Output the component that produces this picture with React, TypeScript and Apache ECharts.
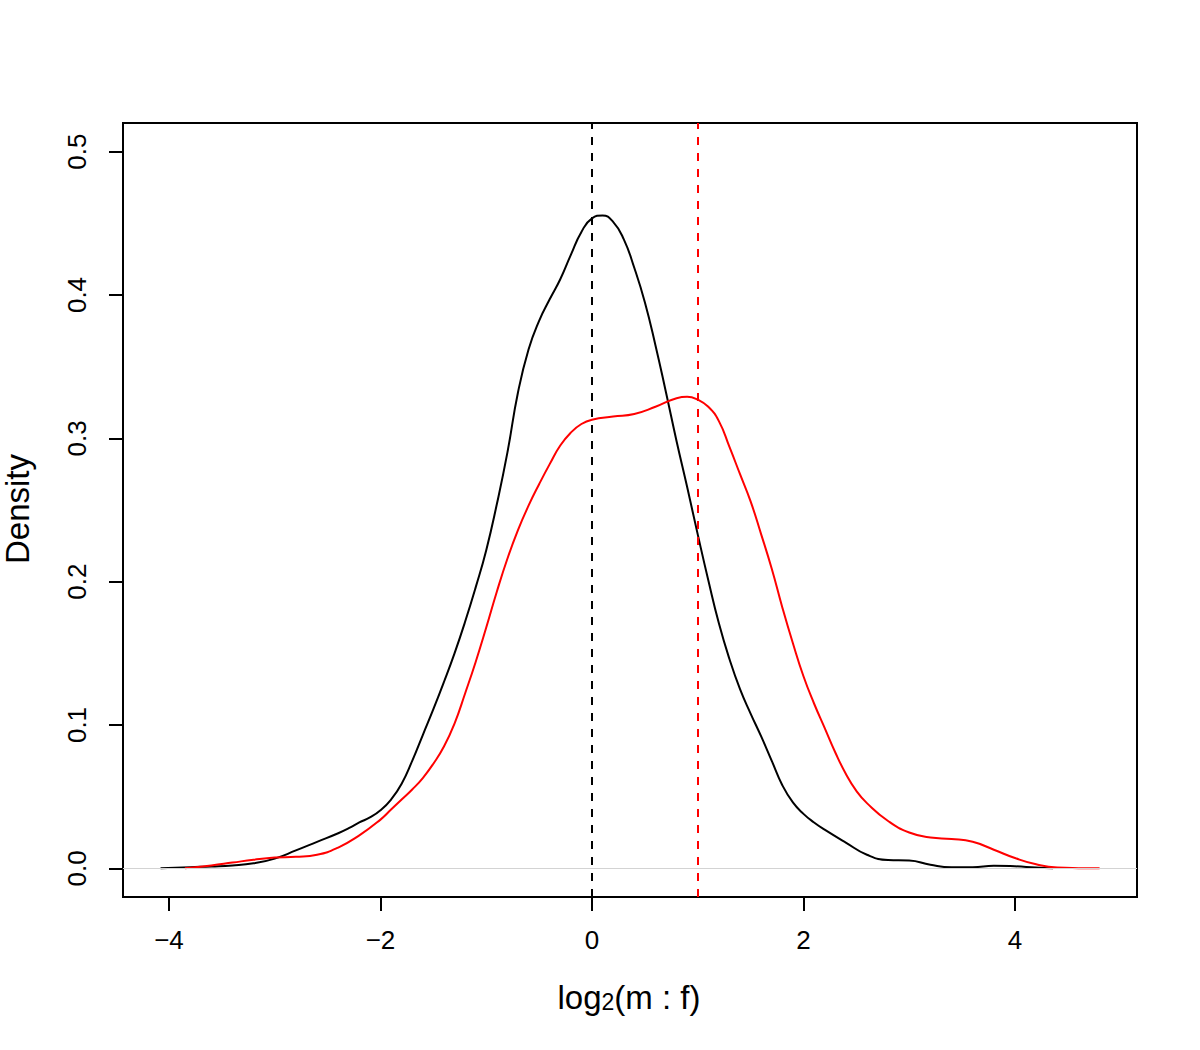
import React, { useEffect, useRef } from "react";
import * as echarts from "echarts";

const xTicks = [-4, -2, 0, 2, 4];
const yTicks = [0, 0.1, 0.2, 0.3, 0.4, 0.5];

const blackX = [-4.08, -3.8, -3.6, -3.4, -3.2, -3.0, -2.8, -2.6, -2.4, -2.3, -2.2, -2.1, -2.0, -1.9, -1.8, -1.7, -1.6, -1.5, -1.4, -1.3, -1.2, -1.1, -1.0, -0.9, -0.8, -0.7, -0.6, -0.5, -0.4, -0.3, -0.2, -0.1, 0.0, 0.1, 0.2, 0.3, 0.4, 0.5, 0.6, 0.7, 0.8, 0.9, 1.0, 1.1, 1.2, 1.3, 1.4, 1.5, 1.6, 1.7, 1.8, 1.9, 2.0, 2.1, 2.2, 2.4, 2.6, 2.8, 3.0, 3.2, 3.4, 3.6, 3.8, 4.0, 4.2, 4.36];
const blackY = [0, 0.0008, 0.0013, 0.002, 0.0035, 0.0068, 0.0125, 0.0185, 0.0245, 0.028, 0.032, 0.0355, 0.0405, 0.048, 0.059, 0.075, 0.093, 0.111, 0.13, 0.15, 0.172, 0.196, 0.222, 0.254, 0.29, 0.332, 0.362, 0.382, 0.397, 0.411, 0.428, 0.444, 0.4535, 0.4555, 0.451, 0.439, 0.419, 0.395, 0.365, 0.332, 0.298, 0.266, 0.233, 0.201, 0.171, 0.146, 0.125, 0.108, 0.092, 0.075, 0.058, 0.046, 0.038, 0.032, 0.027, 0.018, 0.0095, 0.0058, 0.0055, 0.0025, 0.0008, 0.0008, 0.0018, 0.0014, 0.0005, 0];

const redX = [-3.85, -3.6, -3.4, -3.2, -3.0, -2.8, -2.6, -2.4, -2.2, -2.0, -1.9, -1.8, -1.7, -1.6, -1.5, -1.4, -1.3, -1.2, -1.1, -1.0, -0.9, -0.8, -0.7, -0.6, -0.5, -0.4, -0.3, -0.2, -0.1, 0.0, 0.2, 0.4, 0.6, 0.8, 0.9, 1.0, 1.1, 1.2, 1.3, 1.4, 1.5, 1.6, 1.7, 1.8, 1.9, 2.0, 2.1, 2.2, 2.3, 2.4, 2.5, 2.6, 2.8, 3.0, 3.2, 3.4, 3.6, 3.8, 4.0, 4.2, 4.4, 4.6, 4.8];
const redY = [0, 0.002, 0.004, 0.006, 0.0075, 0.008, 0.0095, 0.0145, 0.023, 0.034, 0.041, 0.048, 0.055, 0.063, 0.073, 0.085, 0.101, 0.122, 0.144, 0.168, 0.193, 0.216, 0.236, 0.253, 0.268, 0.282, 0.295, 0.304, 0.31, 0.313, 0.3152, 0.317, 0.322, 0.328, 0.329, 0.327, 0.322, 0.312, 0.294, 0.275, 0.256, 0.233, 0.209, 0.182, 0.157, 0.134, 0.115, 0.098, 0.081, 0.066, 0.054, 0.0455, 0.033, 0.025, 0.0215, 0.0205, 0.0185, 0.013, 0.0072, 0.0028, 0.0005, 0.0001, 0];

const refBlack = 0;
const refRed = 1;

const FONT = "'Liberation Sans', Arial, Helvetica, sans-serif";

const pairs = (xs: number[], ys: number[]) => xs.map((x, i) => [x, ys[i]]);
const fmtX = (v: number) => (v < 0 ? "\u2212" + Math.abs(v) : String(v));

export default function App() {
  const ref = useRef<HTMLDivElement>(null);
  useEffect(() => {
    document.body.style.margin = "0";
    const chart = echarts.init(ref.current!, null, { renderer: "svg" });
    chart.setOption({
      animation: false,
      backgroundColor: "#fff",
      textStyle: { fontFamily: FONT },
      grid: {
        left: 123,
        top: 123,
        width: 1014,
        height: 774,
        show: true,
        borderColor: "#000",
        borderWidth: 2,
        backgroundColor: "transparent",
      },
      xAxis: {
        type: "value",
        min: -4.435,
        max: 5.154,
        axisLine: { show: false, onZero: false },
        splitLine: { show: false },
        axisTick: {
          show: true,
          length: 14,
          customValues: xTicks,
          lineStyle: { color: "#000", width: 2 },
        },
        axisLabel: {
          customValues: xTicks,
          fontSize: 26,
          color: "#000",
          fontFamily: FONT,
          margin: 30,
          formatter: fmtX,
        },
      },
      yAxis: {
        type: "value",
        min: -0.02,
        max: 0.52,
        axisLine: { show: false, onZero: false },
        splitLine: { show: false },
        axisTick: {
          show: true,
          length: 14,
          customValues: yTicks,
          lineStyle: { color: "#000", width: 2 },
        },
        axisLabel: {
          customValues: yTicks,
          fontSize: 26,
          color: "#000",
          fontFamily: FONT,
          rotate: 90,
          margin: 33,
          formatter: (v: number) => v.toFixed(1),
        },
      },
      series: [
        {
          type: "line",
          data: [],
          z: 1,
          silent: true,
          markLine: {
            silent: true,
            symbol: ["none", "none"],
            label: { show: false },
            lineStyle: { color: "#D3D3D3", width: 1, type: "solid" },
            data: [{ yAxis: 0 }],
          },
        },
        {
          type: "line",
          data: pairs(blackX, blackY),
          showSymbol: false,
          smooth: 0.5,
          z: 3,
          lineStyle: { color: "#000", width: 2 },
        },
        {
          type: "line",
          data: pairs(redX, redY),
          showSymbol: false,
          smooth: 0.5,
          z: 3,
          lineStyle: { color: "#FF0000", width: 2 },
        },
        {
          type: "line",
          data: [],
          z: 4,
          silent: true,
          markLine: {
            silent: true,
            symbol: ["none", "none"],
            label: { show: false },
            data: [
              { xAxis: refBlack, lineStyle: { color: "#000", width: 2, type: [8, 8] } },
              { xAxis: refRed, lineStyle: { color: "#FF0000", width: 2, type: [8, 8] } },
            ],
          },
        },
      ],
      graphic: [
        {
          type: "text",
          x: 17,
          y: 509,
          rotation: Math.PI / 2,
          style: {
            text: "Density",
            fontSize: 33,
            fontFamily: FONT,
            fill: "#000",
            align: "center",
            verticalAlign: "middle",
          },
        },
        {
          type: "text",
          x: 629,
          y: 997,
          style: {
            text: "{a|log}{b|2}{a|(m : f)}",
            align: "center",
            verticalAlign: "middle",
            fill: "#000",
            fontFamily: FONT,
            rich: {
              a: { fontSize: 33, lineHeight: 33, fontFamily: FONT, fill: "#000" },
              b: { fontSize: 23, lineHeight: 14, verticalAlign: "bottom", fontFamily: FONT, fill: "#000" },
            },
          },
        },
      ],
    });
    return () => chart.dispose();
  }, []);
  return <div ref={ref} style={{ width: 1200, height: 1050 }} />;
}
